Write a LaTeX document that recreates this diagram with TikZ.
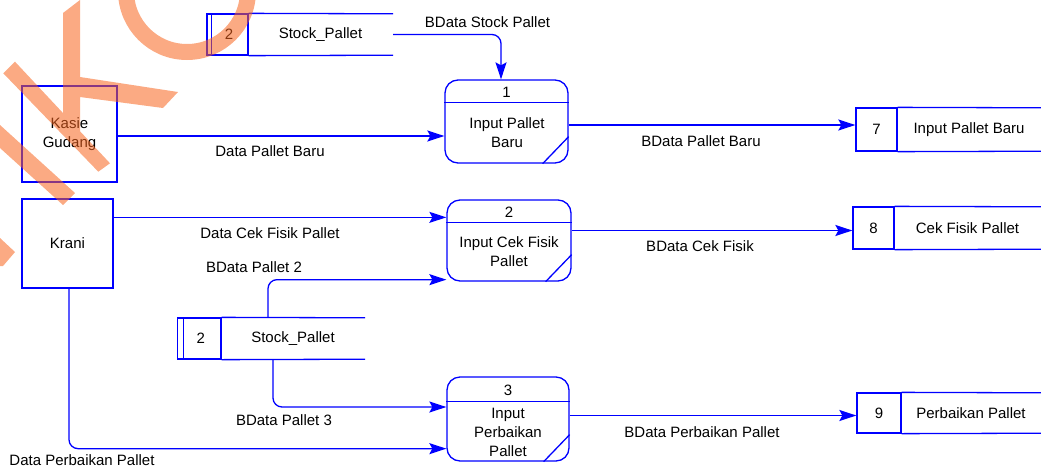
\documentclass[tikz,border=0pt]{standalone}
\usepackage{fontspec}
\setmainfont{Liberation Sans}
\usetikzlibrary{arrows.meta}
\definecolor{flowblue}{RGB}{0,0,255}
\definecolor{markorange}{RGB}{247,100,30}

\begin{document}
\begin{tikzpicture}[x=1pt,y=-1pt,
  every node/.style={font=\fontsize{15}{19}\selectfont, inner sep=0pt, text=black},
  line/.style={draw=flowblue, line width=1.3pt},
  flow/.style={line, -{Stealth[length=17pt,width=11pt,inset=3pt]}, rounded corners=9pt},
  entity/.style={line, rectangle, align=center},
  proc/.style={line, rectangle, rounded corners=13pt},
  cell/.style={line, rectangle},
  slot/.style={rectangle},
  ptext/.style={align=center},
]
\useasboundingbox (0,0) rectangle (1041,469);

% external entities
\node[entity, minimum width=95pt, minimum height=96pt] (kasie) at (69.5,134) {Kasie\\Gudang};
\node[entity, minimum width=91pt, minimum height=89pt] (krani) at (67.5,243.5) {Krani};

% processes
\node[proc, minimum width=123pt, minimum height=83pt] (p1) at (506.5,121.5) {};
\node[proc, minimum width=124pt, minimum height=81pt] (p2) at (509,240.5) {};
\node[proc, minimum width=122pt, minimum height=84pt] (p3) at (508,419) {};
\foreach \p/\h in {p1/23,p2/23,p3/25}{
  \draw[line] ([yshift=-\h pt]\p.north west) -- ([yshift=-\h pt]\p.north east);
  \draw[line] ([yshift=27pt]\p.south east) -- ([xshift=-26pt]\p.south east);
}
\node (p1n) at (506.5,92) {1};
\node[ptext] (p1t) at (507,133) {Input Pallet\\Baru};
\node (p2n) at (509,212) {2};
\node[ptext] (p2t) at (509,252) {Input Cek Fisik\\Pallet};
\node (p3n) at (508,390) {3};
\node[ptext] (p3t) at (508,432.5) {Input\\Perbaikan\\Pallet};

% data stores
\node[cell, minimum width=41pt, minimum height=41pt] (s1n) at (227.5,34.5) {\hspace*{3pt}2};
\node[slot, minimum width=145pt, minimum height=41pt] (s1) at (320.5,34.5) {Stock\_Pallet};
\node[cell, minimum width=43.5pt, minimum height=41pt] (s2n) at (199.25,338.5) {\hspace*{3pt}2};
\node[slot, minimum width=144pt, minimum height=41pt] (s2) at (293,338.5) {Stock\_Pallet};
\node[cell, minimum width=41pt, minimum height=43pt] (s7n) at (876.5,129.5) {7};
\node[slot, minimum width=144pt, minimum height=43pt] (s7) at (969,129.5) {Input Pallet Baru};
\node[cell, minimum width=41pt, minimum height=42pt] (s8n) at (873.5,228) {8};
\node[slot, minimum width=147pt, minimum height=42pt] (s8) at (967.5,228) {Cek Fisik Pallet};
\node[cell, minimum width=44pt, minimum height=40pt] (s9n) at (879,413) {9};
\node[slot, minimum width=140pt, minimum height=40pt] (s9) at (971,413) {Perbaikan Pallet};
\foreach \s in {s1,s2,s7,s8,s9}{
  \draw[line] (\s n.north east) -- (\s.north east);
  \draw[line] (\s n.south east) -- (\s.south east);
}
\draw[line] ([xshift=5pt]s1n.north west) -- ([xshift=5pt]s1n.south west);
\draw[line] ([xshift=6.5pt]s2n.north west) -- ([xshift=6.5pt]s2n.south west);

% data flows
\draw[flow] (s1.east) -| ([xshift=-5.5pt]p1.north);
\draw[flow] ([yshift=-2pt]kasie.east) -- ([yshift=-2pt]kasie.east -| p1.west);
\draw[flow] ([yshift=-3.5pt]p1.east) -- ([yshift=-3.5pt]p1.east -| s7n.west);
\draw[flow] ([yshift=-19pt]krani.north east) -- ([yshift=-19pt]krani.north east -| p2.west);
\draw[flow] ([xshift=-25pt]s2.north) |- ([yshift=2pt]p2.south west);
\draw[flow] ([yshift=10pt]p2.east) -- ([yshift=10pt]p2.east -| s8n.west);
\draw[flow] ([xshift=-20pt]s2.south) |- ([yshift=12pt]p3.west);
\draw[flow] ([xshift=1.5pt]krani.south) |- ([yshift=13pt]p3.south west);
\draw[flow] ([yshift=3.5pt]p3.east) -- ([yshift=3.5pt]p3.east -| s9n.west);

% flow labels
\node (l1) at (487.5,22) {BData Stock Pallet};
\node (l2) at (270,151) {Data Pallet Baru};
\node (l3) at (701,141) {BData Pallet Baru};
\node (l4) at (270,233) {Data Cek Fisik Pallet};
\node (l5) at (700,246) {BData Cek Fisik};
\node (l6) at (254,267) {BData Pallet 2};
\node (l7) at (284,420) {BData Pallet 3};
\node (l8) at (82,460.5) {Data Perbaikan Pallet};
\node (l9) at (702,432) {BData Perbaikan Pallet};

% translucent orange lettering in the upper left corner
\begin{scope}
  \clip (0,0) rectangle (1041,469);
  \fill[markorange, fill opacity=0.55]
    (63,13) -- (80,0) -- (80,140) -- (63,125) -- cycle
    (80,77) -- (178,92) -- (163,108) -- (80,97) -- cycle
    (3.3,73.3) -- (15,61.7) -- (110,163.3) -- (98.3,171.7) -- cycle
    (0,125) -- (75,193) -- (63,205) -- (0,148) -- cycle
    (0,238) -- (15,252) -- (3,266) -- (0,266) -- cycle;
  \draw[markorange, opacity=0.55, line width=16pt] (187,-9) circle[radius=61];
\end{scope}
\end{tikzpicture}
\end{document}
